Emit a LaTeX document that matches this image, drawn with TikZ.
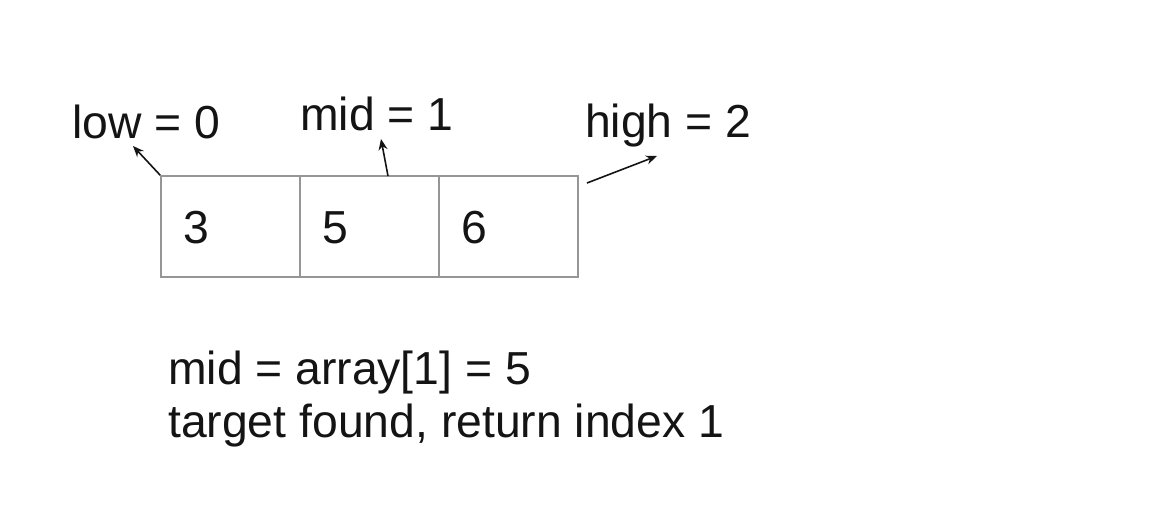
\documentclass[tikz,border=0pt]{standalone}
\usepackage{fontspec}
\setmainfont{Liberation Sans}
\usepackage{xcolor}
\usepackage{tikz}
\usetikzlibrary{arrows.meta, positioning, calc}
\definecolor{cellgray}{RGB}{150,150,150}
\definecolor{inkcolor}{RGB}{20,20,20}

\begin{document}
\begin{tikzpicture}[
    x=1pt, y=-1pt,
    cell/.style={draw=cellgray, line width=1.6pt, minimum width=139pt, minimum height=101pt, inner sep=0pt},
    label/.style={anchor=base west, inner sep=0pt, text=inkcolor, font=\fontsize{46.3}{53}\selectfont},
    arrow/.style={-{Stealth[length=11pt, width=9pt]}, line width=1.6pt, inkcolor}
]
    \useasboundingbox (0,0) rectangle (1162,520);

    % array cells
    \foreach \v [count=\i] in {3,5,6} {
        \node[cell] (c\i) at (91.5+139*\i, 226.5) {};
        \node[label] (n\i) at ($(c\i.west)+(23,16.5)$) {\v};
    }

    % pointers
    \node[label] (low) at (72,138) {low = 0};
    \node[label] (mid) at (300,130) {mid = 1};
    \node[label] (high) at (585,137) {high = 2};

    \coordinate (lowtip) at (133,146);
    \coordinate (midfoot) at (388,176);
    \coordinate (midtip) at (381,139);
    \coordinate (highfoot) at (587,183);
    \coordinate (hightip) at (657,156);

    \draw[arrow] (c1.north west) -- (lowtip);
    \draw[arrow] (midfoot) -- (midtip);
    \draw[arrow] (highfoot) -- (hightip);

    % result
    \node[label] (res) at (168,384) {mid = array[1] = 5};
    \node[label] (found) at (168,437) {target found, return index 1};
\end{tikzpicture}
\end{document}
